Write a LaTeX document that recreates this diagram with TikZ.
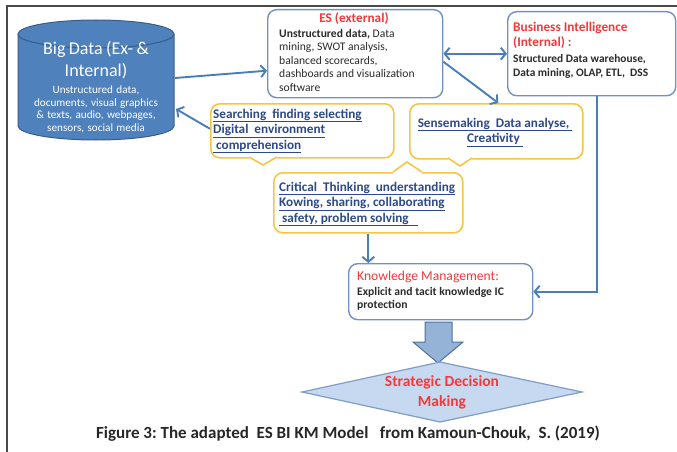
\documentclass[tikz,border=0pt]{standalone}
\usepackage{fontspec}
\setmainfont{Carlito}
\usetikzlibrary{arrows.meta}

\definecolor{flowblue}{HTML}{4A7EBB}
\definecolor{cylfill}{HTML}{4F81BD}
\definecolor{cyledge}{HTML}{385D8A}
\definecolor{boxedge}{HTML}{7391C0}
\definecolor{calloutedge}{HTML}{F7C545}
\definecolor{linkblue}{HTML}{2C4A8A}
\definecolor{alertred}{HTML}{F23A3A}
\definecolor{bodytext}{HTML}{2B2B2B}
\definecolor{blockfill}{HTML}{95B3D7}
\definecolor{blockedge}{HTML}{4F6F9F}
\definecolor{diamondfill}{HTML}{C6D9F1}
\definecolor{diamondedge}{HTML}{7F9CC4}
\definecolor{framegray}{HTML}{4A4A4A}

% underline every line at the same depth
\newcommand\ulline[1]{\underline{#1\vphantom{gy}}}

\begin{document}
\begin{tikzpicture}[x=1pt,y=-1pt,
  panel/.style={draw=boxedge, line width=1.4pt, rounded corners=9pt, fill=white,
    anchor=north west, inner sep=0pt},
  callout/.style={draw=calloutedge, line width=1.6pt, rounded corners=9pt, fill=white,
    anchor=north west, inner sep=0pt},
  flow/.style={draw=flowblue, line width=1.9pt,
    -{Straight Barb[length=5pt,width=12pt]}},
  twoway/.style={draw=flowblue, line width=1.9pt,
    {Straight Barb[length=5pt,width=12pt]}-{Straight Barb[length=5pt,width=12pt]}},
  % multi-line texts are placed by the baseline of their last line
  txt/.style={inner sep=0pt, anchor=base west, align=left},
  redtitle/.style={txt, text=alertred, font=\bfseries\fontsize{13.3}{15}\selectfont},
  linktext/.style={txt, text=linkblue, font=\bfseries\fontsize{13.2}{15.5}\selectfont},
]
\useasboundingbox (0,0) rectangle (677,452);

% page frame
\draw[framegray, line width=1.1pt] (677,6) -- (7,6) -- (7,452);

% ---- Big Data cylinder
\path[fill=cylfill, draw=cyledge, line width=1pt]
  (18,34) -- (18,126)
  arc[start angle=180, end angle=360, x radius=78pt, y radius=14pt]
  -- (174,34)
  arc[start angle=0, end angle=180, x radius=78pt, y radius=14pt] -- cycle;
\draw[cyledge, line width=1pt] (18,34)
  arc[start angle=180, end angle=360, x radius=78pt, y radius=14pt];
% fixed-width text: placed by the baseline of its first line
\node[inner sep=0pt, anchor=base, text width=156pt, align=center, text=white]
  (bigdata) at (96,55)
  {{\fontsize{18}{22}\selectfont Big Data (Ex- \&\\Internal)\par}\vspace{3.8pt}
   {\fontsize{11.2}{12.7}\selectfont Unstructured data,\\documents, visual graphics\\
    \& texts, audio, webpages,\\sensors, social media\par}};
\coordinate (bd-out) at (175,78);
\coordinate (bd-in) at (176,109);

% ---- ES (external)
\node[panel, minimum width=175pt, minimum height=88pt] (es) at (267,9) {};
\node[redtitle, anchor=base] (es-title) at (354,23) {ES (external)};
\node[txt, text=bodytext, font=\fontsize{11.6}{13.5}\selectfont] (es-body) at (279,91)
  {\textbf{Unstructured data,} Data\\mining, SWOT analysis,\\balanced scorecards,\\
   dashboards and visualization\\software};

% ---- Business Intelligence (internal)
\node[panel, minimum width=168pt, minimum height=84pt] (bi) at (507,11) {};
\node[redtitle] (bi-title) at (513,47) {Business Intelligence\\(Internal)~:};
\node[txt, text=bodytext, font=\bfseries\fontsize{11.4}{13.5}\selectfont] (bi-body) at (513,76)
  {Structured Data warehouse,\\Data mining, OLAP, ETL,~ DSS};

% ---- Searching callout
\node[callout, minimum width=183pt, minimum height=54pt] (search) at (210,103) {};
\fill[white] (249,155) -- (277,155) -- (277,158.5) -- (263,165) -- (249,158.5) -- cycle;
\draw[calloutedge, line width=1.6pt] (249,157) -- (263,165) -- (277,157);
\node[linktext] (search-text) at (213,149)
  {\ulline{Searching\ \ finding selecting}\\\ulline{Digital\ \ environment}\\
   \ulline{\ comprehension}};

% ---- Sensemaking callout
\node[callout, minimum width=173pt, minimum height=55pt] (sense) at (409,103) {};
\fill[white] (448,156) -- (472,156) -- (472,159.5) -- (460,166) -- (448,159.5) -- cycle;
\draw[calloutedge, line width=1.6pt] (448,158) -- (460,166) -- (472,158);
\node[linktext, anchor=base, align=center] (sense-text) at (495,142.5)
  {\ulline{Sensemaking\ \ Data analyse,\ }\\\ulline{Creativity\ }};

% ---- Critical thinking callout
\node[callout, minimum width=189pt, minimum height=60pt] (critical) at (273,172) {};
\fill[white] (393,174) -- (422,174) -- (422,171) -- (407,162.5) -- (393,171) -- cycle;
\draw[calloutedge, line width=1.6pt] (393,172) -- (407,162) -- (422,172);
\node[linktext] (critical-text) at (279,222)
  {\ulline{Critical\ \ Thinking\ \ understanding}\\
   \ulline{Kowing, sharing, collaborating}\\\ulline{\ safety, problem solving\ \ \ }};

% ---- Knowledge Management
\node[panel, minimum width=184pt, minimum height=56pt] (km) at (348,263) {};
\node[txt, text=alertred, font=\fontsize{13.6}{15}\selectfont] (km-title) at (357,280.5)
  {Knowledge Management:};
\node[txt, text=bodytext, font=\bfseries\fontsize{11.6}{12.8}\selectfont] (km-body) at (357,308.5)
  {Explicit and tacit knowledge IC\\protection};

% ---- block arrow and decision diamond
\draw[fill=blockfill, draw=blockedge, line width=1pt, line join=miter]
  (425,322) -- (452,322) -- (452,342) -- (463,342) -- (438,363) -- (413,342)
  -- (425,342) -- cycle;
\draw[fill=diamondfill, draw=diamondedge, line width=1.2pt]
  (302,392) -- (440,362) -- (582,392) -- (440,422) -- cycle;
\node[inner sep=0pt, anchor=base, align=center, text=alertred,
  font=\bfseries\fontsize{15.5}{20}\selectfont] (decision) at (442,406)
  {Strategic Decision\\Making};

% ---- caption
\node[inner sep=0pt, anchor=base, text=black!85,
  font=\bfseries\fontsize{17}{20}\selectfont] (caption) at (348,438)
  {Figure 3:\ The adapted\ \ ES BI KM Model\ \ \ from Kamoun-Chouk,\ \ S. (2019)};

% ---- connectors
\draw[flow] (bd-out) -- ([yshift=-17pt]es.west);
\draw[twoway] (es.east) -- (bi.west);
\draw[flow] ([yshift=-8pt]es.east) -- ([xshift=2pt]sense.north);
\draw[flow] ([yshift=2pt]search.west) -- (bd-in);
\draw[flow] (critical.south) -- (critical.south |- km.north);
\draw[flow] ([xshift=5pt]bi.south) |- (km.east);
\end{tikzpicture}
\end{document}
